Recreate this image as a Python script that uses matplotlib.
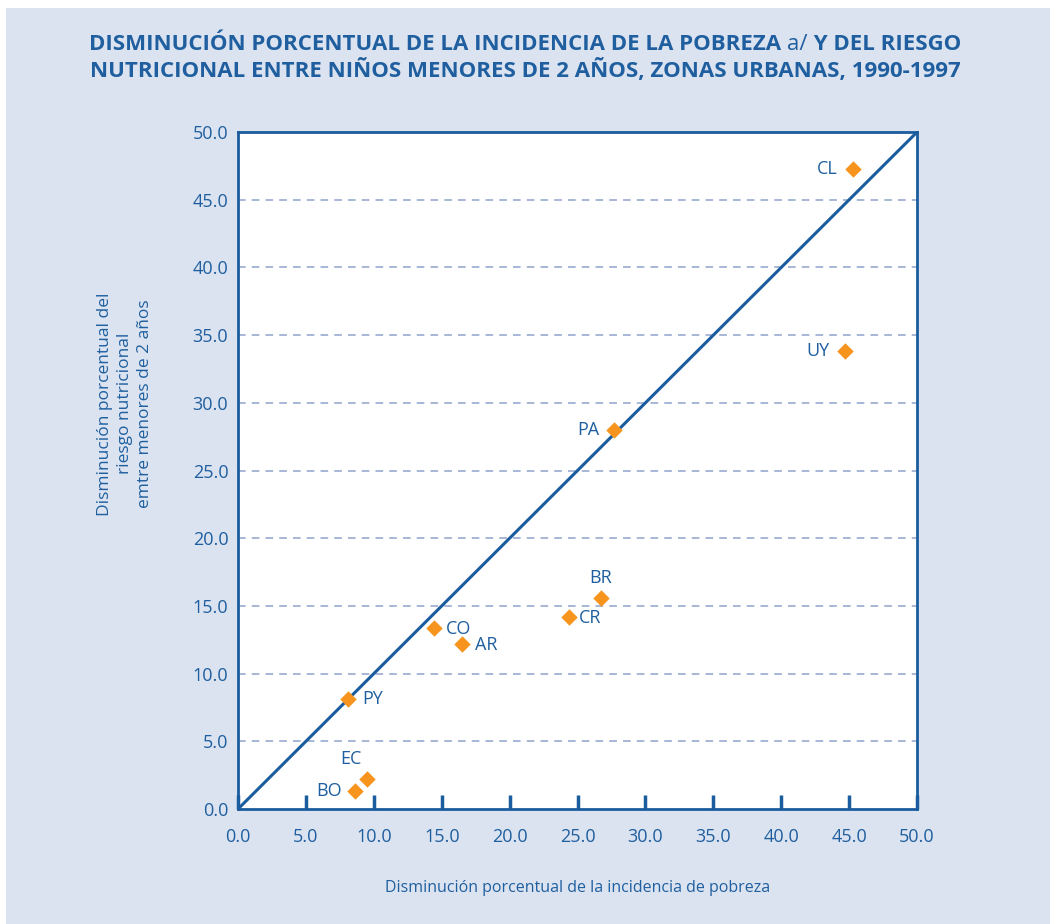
import matplotlib
matplotlib.use("Agg")
import matplotlib.pyplot as plt
from matplotlib.patches import Rectangle

countries = ["CL", "UY", "PA", "BR", "CR", "CO", "AR", "PY", "EC", "BO"]
x_pobreza = [45.3, 44.7, 27.7, 26.7, 24.4, 14.4, 16.5, 8.1, 9.5, 8.6]
y_riesgo = [47.3, 33.8, 28.0, 15.6, 14.2, 13.4, 12.2, 8.1, 2.2, 1.3]
ticks = [0.0, 5.0, 10.0, 15.0, 20.0, 25.0, 30.0, 35.0, 40.0, 45.0, 50.0]
# label placement (offset in points, alignment)
label_pos = {
    "CL": ((-11, 0), "right", "center"),
    "UY": ((-11, 0), "right", "center"),
    "PA": ((-11, 0), "right", "center"),
    "BR": ((0, 8), "center", "bottom"),
    "CR": ((7, -1), "left", "center"),
    "CO": ((9, -1), "left", "center"),
    "AR": ((9, -1), "left", "center"),
    "PY": ((10, 0), "left", "center"),
    "EC": ((-4, 8), "right", "bottom"),
    "BO": ((-9, 0), "right", "center"),
}
title_parts = ["DISMINUCIÓN PORCENTUAL DE LA INCIDENCIA DE LA POBREZA ", "a/",
               " Y DEL RIESGO"]
title_line2 = "NUTRICIONAL ENTRE NIÑOS MENORES DE 2 AÑOS, ZONAS URBANAS, 1990-1997"

BG = "#dce3f0"
BLUE = "#1a5c9e"
TXT = "#1f5f9f"
GRID = "#8fa3cc"
ORANGE = "#f7941d"

plt.rcParams['font.family'] = ['Open Sans', 'DejaVu Sans']

fig = plt.figure(figsize=(10.5, 9.24), dpi=100, facecolor="white")
fig.patches.append(Rectangle((6 / 1050, 0), 1 - 6 / 1050, 1 - 8 / 924,
                             transform=fig.transFigure, facecolor=BG,
                             edgecolor="none", zorder=-10))
ax = fig.add_axes([0.2267, 0.1245, 0.6467, 0.7326])
ax.set_facecolor("white")
ax.set_xlim(0, 50)
ax.set_ylim(0, 50)

for t in ticks[1:-1]:
    ax.axhline(t, color=GRID, lw=1.1, ls=(0, (5, 4)), zorder=1)

ax.plot([0, 50], [0, 50], color=BLUE, lw=2.2, zorder=2)
ax.scatter(x_pobreza, y_riesgo, marker="D", s=70, color=ORANGE, zorder=3, linewidths=0)

for c, x, y in zip(countries, x_pobreza, y_riesgo):
    off, ha, va = label_pos[c]
    ax.annotate(c, (x, y), xytext=off, textcoords="offset points",
                ha=ha, va=va, fontsize=13, color=TXT)

for s in ax.spines.values():
    s.set_color(BLUE)
    s.set_linewidth(2)

ax.set_xticks(ticks)
ax.set_yticks(ticks)
ax.set_xticklabels([f"{t:.1f}" for t in ticks])
ax.set_yticklabels([f"{t:.1f}" for t in ticks])
ax.tick_params(axis="x", direction="in", length=10, width=2.5, color=BLUE,
               labelcolor=TXT, labelsize=13, pad=14)
ax.tick_params(axis="y", length=0, labelcolor=TXT, labelsize=13, pad=7)

ax.set_xlabel("Disminución porcentual de la incidencia de pobreza", color=TXT,
              fontsize=11.5, labelpad=24)
fig.text(0.119, 0.563, "Disminución porcentual del\nriesgo nutricional\nemtre menores de 2 años",
         rotation=90, ha="center", va="center", color=TXT, fontsize=12.5,
         multialignment="center", linespacing=1.35)

# Title: line 1 built from pieces so that "a/" is in regular weight
renderer = fig.canvas.get_renderer()
y1 = 1 - 45 / 924
weights = ["bold", "normal", "bold"]
texts = []
for part, w in zip(title_parts, weights):
    t = fig.text(0, y1, part, ha="left", va="center", color=TXT,
                 fontsize=16, fontweight=w)
    texts.append(t)
widths = [t.get_window_extent(renderer).width for t in texts]
total = sum(widths)
x0 = (1050 - total) / 2
for t, w in zip(texts, widths):
    t.set_x(x0 / 1050)
    x0 += w
fig.text(0.5, 1 - 70 / 924, title_line2, ha="center", va="center", color=TXT,
         fontsize=16, fontweight="bold")

fig.savefig("out.png", dpi=100, facecolor="white")
